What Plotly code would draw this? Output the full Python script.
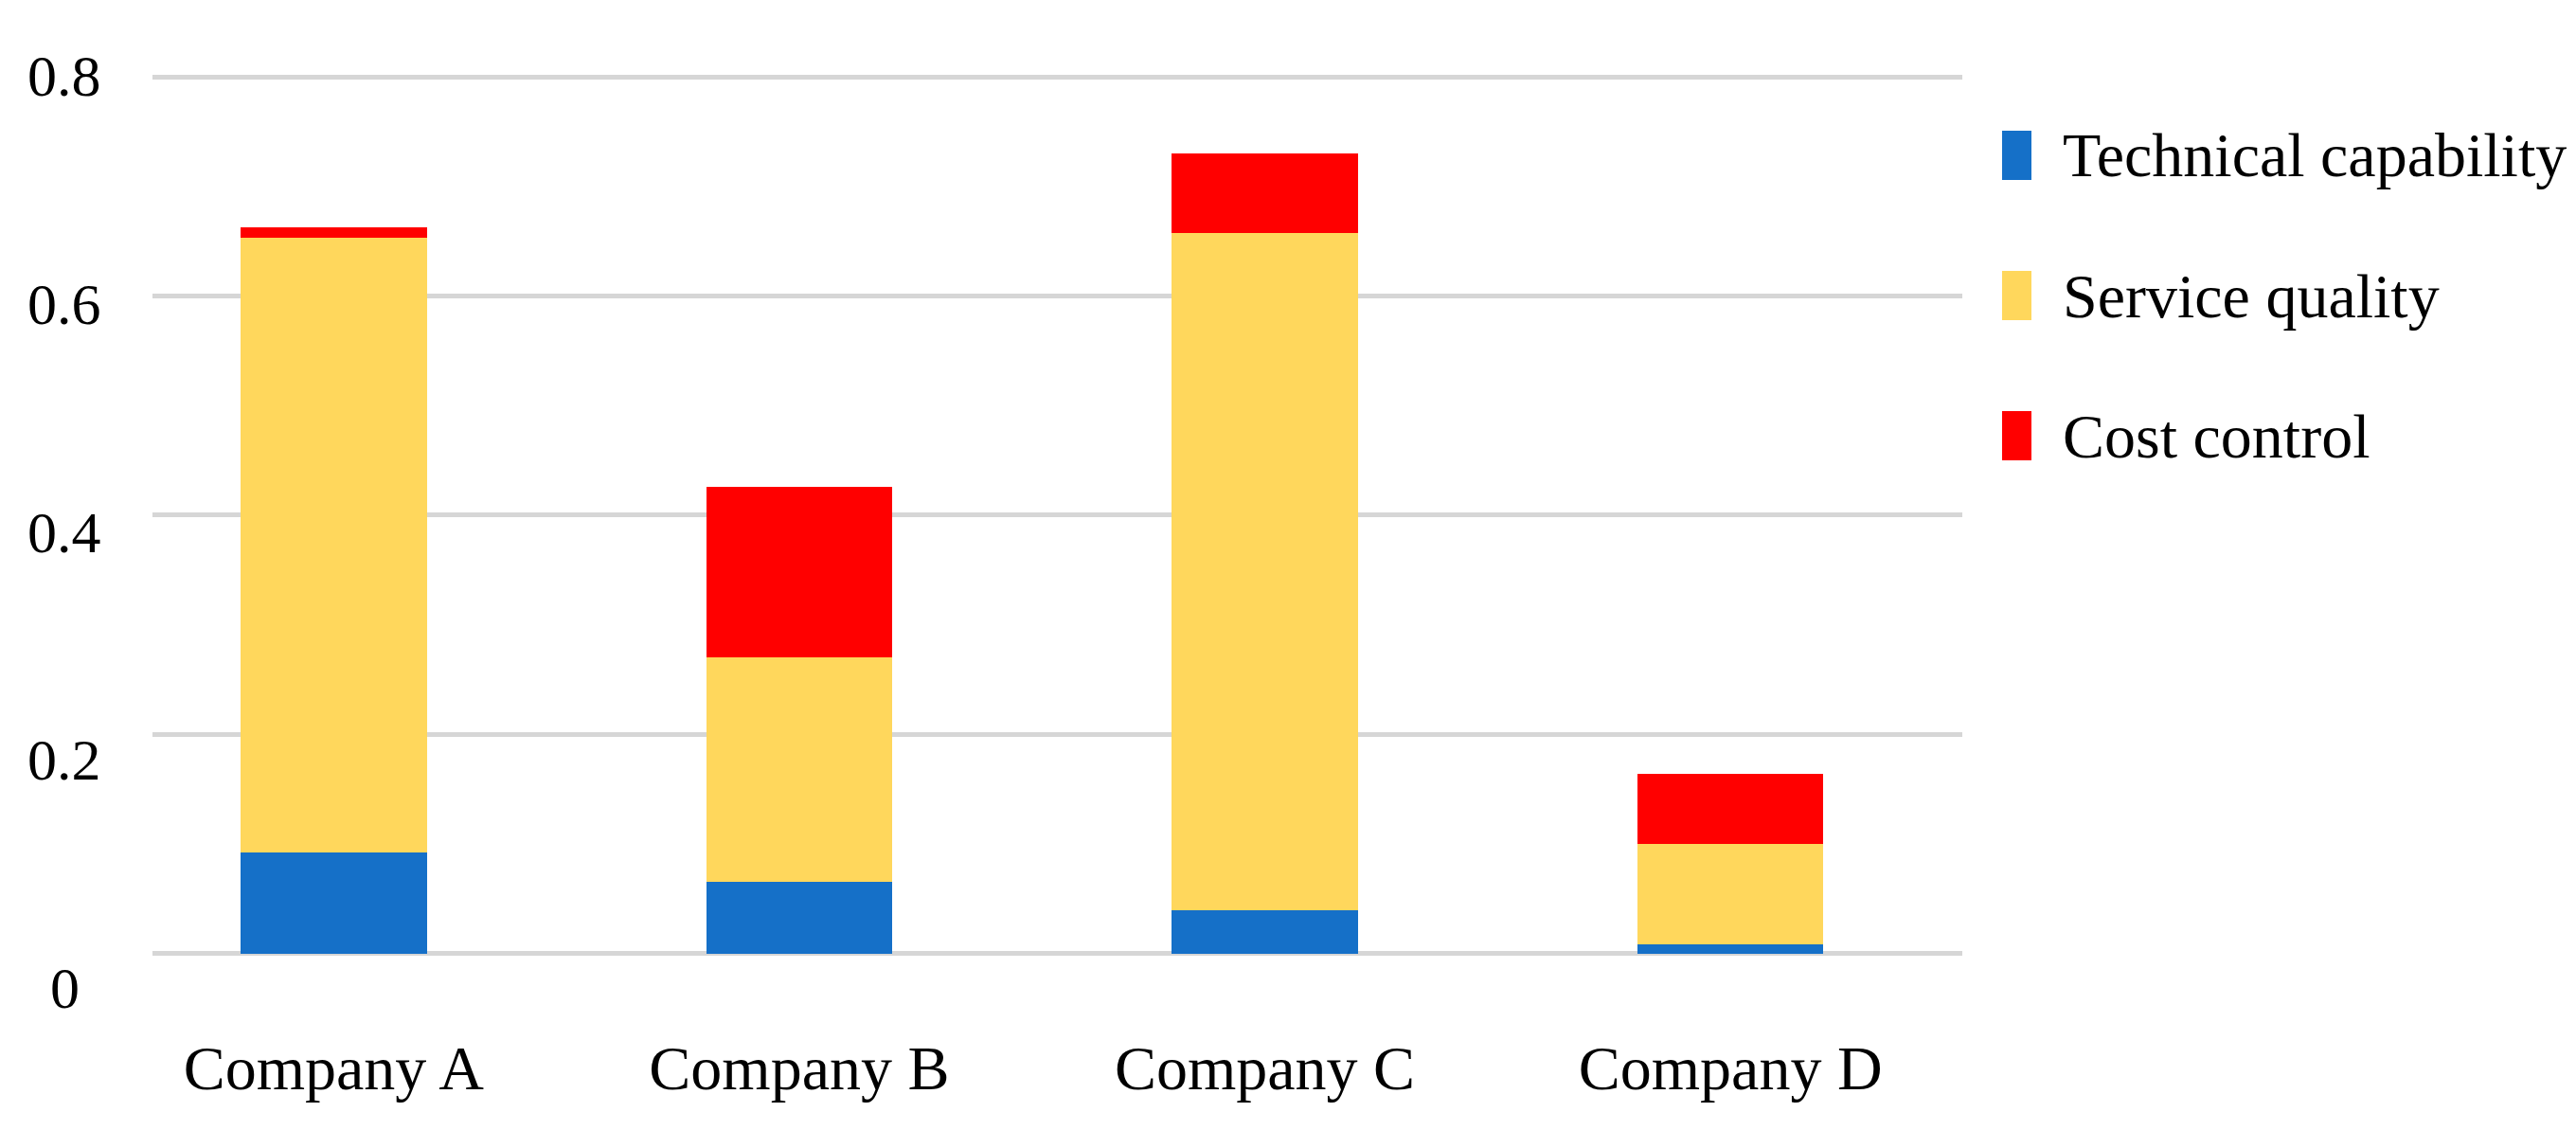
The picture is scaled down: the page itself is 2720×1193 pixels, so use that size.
import plotly.graph_objects as go

# ---- data ----
companies = ["Company A", "Company B", "Company C", "Company D"]
series_names = ["Technical capability", "Service quality", "Cost control"]
technical = [0.092, 0.065, 0.039, 0.008]
service = [0.561, 0.205, 0.618, 0.092]
cost = [0.010, 0.156, 0.073, 0.064]
y_tick_vals = [0, 0.2, 0.4, 0.6, 0.8]
y_tick_text = ["0", "0.2", "0.4", "0.6", "0.8"]

# ---- style ----
colors = ["#1570C8", "#FFD75C", "#FF0000"]
FONT = "Liberation Serif"
OFF = 8                      # page body margin
W, H = 2720 - OFF, 1193 - OFF
# plot area in window pixels
PL, PR, PT, PB = 161, 2072, 58, 1050
ML, MR, MT, MB = PL - OFF, W - (PR - OFF), PT - OFF, H - (PB - OFF)

fig = go.Figure()
for name, vals, col in zip(series_names, [technical, service, cost], colors):
    fig.add_trace(go.Bar(
        x=companies, y=vals, name=name, marker=dict(color=col, line=dict(width=0)),
        width=0.4, showlegend=False,
    ))

# window pixel -> paper helpers for layout decoration (legend)
def px_x(px):
    return (px - PL) / (PR - PL)
def px_y(py):
    return (PB - py) / (PB - PT)

annotations = []
shapes = []
# custom legend, large swatches like the reference
row0, step = 164, 148
for i, (name, col) in enumerate(zip(series_names, colors)):
    cy = row0 + i * step
    shapes.append(dict(type="rect", xref="paper", yref="paper",
                       x0=px_x(2114), x1=px_x(2145), y0=px_y(cy + 26), y1=px_y(cy - 26),
                       fillcolor=col, line=dict(width=0)))
    annotations.append(dict(text=name, xref="paper", yref="paper", x=px_x(2176), y=px_y(cy),
                            xanchor="left", yanchor="middle", showarrow=False,
                            font=dict(family=FONT, size=66, color="black")))

# y tick labels (centered, as in the reference)
for v, t in zip(y_tick_vals, y_tick_text):
    annotations.append(dict(text=t, xref="paper", x=0, xshift=68 - PL, xanchor="center",
                            yref="y2", y=v, yanchor="middle", showarrow=False,
                            font=dict(family=FONT, size=62, color="black")))

fig.update_layout(
    width=W, height=H,
    barmode="stack",
    plot_bgcolor="white", paper_bgcolor="white",
    margin=dict(l=ML, r=MR, t=MT, b=MB, pad=0),
    font=dict(family=FONT, color="black"),
    xaxis=dict(range=[-0.389, 3.498], showgrid=False, showline=False, zeroline=False,
               ticks="", tickfont=dict(family=FONT, size=66, color="black"),
               ticklabelstandoff=33, automargin=False),
    yaxis=dict(range=[-0.0376, 0.8199], tickvals=y_tick_vals, showticklabels=False,
               showgrid=True, gridcolor="#D6D6D6", gridwidth=5, zeroline=False,
               showline=False, ticks="", automargin=False),
    yaxis2=dict(range=[-0.0058, 0.8183], overlaying="y", side="left", showticklabels=False,
                showgrid=False, zeroline=False, showline=False, ticks="", automargin=False),
    annotations=annotations,
    shapes=shapes,
    showlegend=False,
)

fig.write_html("out.html")
